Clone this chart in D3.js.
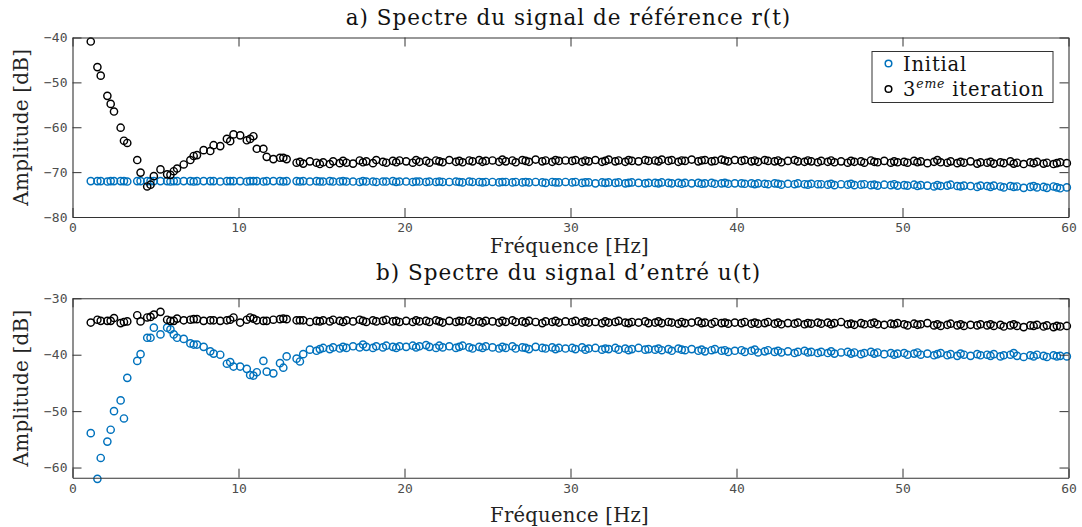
<!DOCTYPE html>
<html><head><meta charset="utf-8">
<script src="https://cdn.jsdelivr.net/npm/d3@7"></script>
<style>
body{margin:0;background:#fff;}
svg{display:block;}
</style></head>
<body>
<svg id="chart" width="1082" height="527"></svg>
<script>
// Frequencies (Hz), one line per 5 Hz block
const freq = [
 1.1,1.5,1.7,2.1,2.3,2.5,2.9,3.1,3.3,3.9,4.1,4.5,4.7,4.9,
 5.3,5.7,5.9,6.1,6.3,6.7,7.1,7.3,7.5,7.9,8.3,8.5,8.9,9.3,9.5,9.7,
 10.1,10.5,10.7,10.9,11.1,11.5,11.7,12.1,12.5,12.7,12.9,13.5,13.7,13.9,14.3,14.7,14.9,
 15.1,15.5,15.7,16.1,16.3,16.5,16.9,17.3,17.5,17.7,18.1,18.3,18.7,18.9,19.3,19.5,19.7,
 20.1,20.5,20.7,20.9,21.3,21.5,21.9,22.1,22.3,22.7,23.1,23.3,23.5,23.9,24.1,24.5,24.7,24.9,
 25.3,25.7,25.9,26.1,26.5,26.7,27.1,27.3,27.5,27.9,28.3,28.5,28.9,29.1,29.3,29.7,
 30.1,30.3,30.7,30.9,31.1,31.5,31.9,32.1,32.3,32.7,32.9,33.3,33.5,33.7,34.1,34.5,34.7,
 35.1,35.3,35.5,35.9,36.1,36.5,36.7,36.9,37.3,37.7,37.9,38.1,38.5,38.7,39.1,39.3,39.5,39.9,
 40.3,40.5,40.9,41.1,41.3,41.7,41.9,42.3,42.5,42.7,43.1,43.5,43.7,44.1,44.3,44.5,44.9,
 45.1,45.5,45.7,45.9,46.3,46.7,46.9,47.1,47.5,47.7,48.1,48.3,48.5,48.9,49.3,49.5,49.7,
 50.1,50.3,50.7,50.9,51.1,51.5,51.9,52.1,52.3,52.7,52.9,53.3,53.5,53.7,54.1,54.5,54.7,
 55.1,55.3,55.5,55.9,56.1,56.5,56.7,56.9,57.3,57.7,57.9,58.1,58.5,58.7,59.1,59.3,59.5,59.9
];

// a) reference signal r(t) spectrum [dB]
const refInitial = [
 -72.0,-72.0,-72.0,-72.1,-72.0,-72.0,-72.0,-72.0,-72.1,-72.0,-72.0,-72.0,-72.0,-72.0,
 -72.0,-72.0,-72.1,-72.0,-72.0,-72.0,-72.0,-72.1,-72.0,-72.0,-72.0,-72.0,-72.1,-72.0,-72.0,-72.0,
 -72.0,-72.1,-72.0,-72.0,-72.0,-72.1,-72.0,-72.0,-72.0,-72.1,-72.0,-72.0,-72.1,-72.0,-72.1,-72.0,-72.1,
 -72.1,-72.0,-72.1,-72.1,-72.0,-72.1,-72.1,-72.2,-72.0,-72.1,-72.1,-72.2,-72.1,-72.1,-72.0,-72.2,-72.1,
 -72.1,-72.2,-72.1,-72.1,-72.2,-72.1,-72.2,-72.1,-72.2,-72.2,-72.1,-72.2,-72.3,-72.1,-72.2,-72.2,-72.3,-72.2,
 -72.2,-72.3,-72.2,-72.2,-72.3,-72.2,-72.3,-72.2,-72.3,-72.2,-72.3,-72.4,-72.2,-72.3,-72.3,-72.2,
 -72.3,-72.2,-72.4,-72.3,-72.3,-72.5,-72.3,-72.4,-72.3,-72.4,-72.3,-72.5,-72.4,-72.3,-72.4,-72.5,-72.4,
 -72.4,-72.5,-72.3,-72.4,-72.5,-72.4,-72.6,-72.4,-72.5,-72.4,-72.6,-72.5,-72.4,-72.6,-72.5,-72.4,-72.6,-72.5,
 -72.5,-72.6,-72.5,-72.7,-72.5,-72.6,-72.7,-72.5,-72.6,-72.8,-72.6,-72.7,-72.5,-72.7,-72.8,-72.6,-72.7,
 -72.7,-72.8,-72.6,-72.9,-72.7,-72.8,-72.6,-72.9,-72.8,-72.7,-72.9,-72.8,-73.0,-72.8,-72.9,-72.7,-73.0,
 -72.9,-73.0,-72.8,-73.1,-72.9,-73.0,-73.2,-72.9,-73.1,-73.0,-72.8,-73.1,-73.2,-73.0,-73.1,-73.3,-73.0,
 -73.1,-73.3,-73.0,-73.2,-73.4,-73.1,-73.3,-73.2,-73.5,-73.3,-73.1,-73.4,-73.3,-73.5,-73.2,-73.4,-73.6,-73.4
];
const refThird = [
 -40.9,-46.6,-48.5,-53.0,-54.8,-56.5,-60.1,-63.0,-63.5,-67.3,-70.1,-73.2,-72.8,-70.9,
 -69.4,-70.5,-70.6,-69.8,-69.2,-68.3,-67.3,-66.4,-66.2,-65.1,-65.3,-64.0,-64.2,-62.6,-63.1,-61.6,
 -61.8,-62.9,-62.6,-62.0,-64.8,-64.8,-66.6,-67.1,-66.8,-66.8,-67.1,-67.9,-67.7,-68.1,-67.6,-67.9,-68.2,
 -67.8,-68.2,-67.6,-68.0,-67.5,-67.9,-68.1,-67.4,-67.8,-67.6,-68.0,-67.3,-67.7,-67.9,-67.5,-67.8,-67.4,
 -67.6,-67.9,-67.3,-67.7,-67.5,-67.9,-67.4,-67.6,-67.8,-67.3,-67.7,-67.5,-67.8,-67.4,-67.6,-67.3,-67.7,-67.5,
 -67.4,-67.7,-67.2,-67.6,-67.4,-67.8,-67.3,-67.5,-67.7,-67.2,-67.6,-67.4,-67.7,-67.3,-67.5,-67.4,
 -67.5,-67.3,-67.7,-67.4,-67.6,-67.3,-67.7,-67.5,-67.2,-67.6,-67.4,-67.7,-67.3,-67.5,-67.6,-67.3,-67.5,
 -67.4,-67.6,-67.2,-67.5,-67.3,-67.7,-67.4,-67.5,-67.2,-67.6,-67.4,-67.3,-67.6,-67.5,-67.2,-67.4,-67.6,-67.3,
 -67.5,-67.3,-67.6,-67.4,-67.7,-67.3,-67.5,-67.6,-67.4,-67.8,-67.5,-67.3,-67.6,-67.7,-67.4,-67.6,-67.8,
 -67.5,-67.7,-67.4,-67.8,-67.6,-67.9,-67.5,-67.7,-67.6,-67.9,-67.4,-67.7,-67.8,-67.5,-67.9,-67.6,-67.8,
 -67.7,-67.9,-67.5,-67.8,-67.6,-68.0,-67.7,-67.3,-67.8,-67.9,-67.6,-68.0,-67.7,-67.9,-67.6,-68.1,-67.8,
 -67.9,-67.7,-68.1,-67.8,-68.0,-67.6,-68.1,-67.9,-68.2,-67.8,-68.0,-67.7,-68.1,-67.9,-68.2,-68.0,-67.8,-68.0
];

// b) input signal u(t) spectrum [dB]
const inInitial = [
 -53.9,-62.0,-58.3,-55.4,-53.3,-50.0,-48.1,-51.3,-44.1,-41.1,-39.9,-37.0,-37.0,-35.2,
 -36.4,-35.2,-35.5,-36.4,-37.0,-37.2,-38.0,-38.2,-38.2,-38.6,-39.4,-39.8,-40.0,-41.6,-41.3,-42.1,
 -42.1,-42.5,-43.6,-43.7,-43.1,-41.1,-43.0,-43.3,-41.5,-42.3,-40.3,-40.7,-41.2,-39.9,-39.1,-39.3,-39.0,
 -38.8,-39.0,-38.7,-38.9,-38.6,-38.8,-38.5,-38.7,-38.2,-38.6,-38.8,-38.5,-38.7,-38.4,-38.6,-38.8,-38.5,
 -38.6,-38.4,-38.7,-38.5,-38.3,-38.6,-38.8,-38.4,-38.7,-38.5,-38.8,-38.6,-38.4,-38.7,-38.9,-38.6,-38.8,-38.5,
 -38.7,-38.9,-38.6,-38.8,-38.5,-38.9,-38.7,-38.8,-39.0,-38.6,-38.8,-38.9,-38.7,-39.0,-38.8,-38.9,
 -38.8,-39.0,-38.7,-39.1,-38.9,-38.8,-39.1,-38.9,-39.0,-38.8,-39.1,-38.9,-39.2,-39.0,-38.8,-39.1,-39.0,
 -39.1,-38.9,-39.2,-39.0,-39.3,-38.9,-39.1,-39.2,-39.0,-39.3,-39.1,-39.4,-39.2,-39.0,-39.3,-39.2,-39.5,-39.3,
 -39.2,-39.5,-39.3,-39.1,-39.6,-39.4,-39.2,-39.5,-39.3,-39.6,-39.4,-39.7,-39.5,-39.3,-39.6,-39.5,-39.7,
 -39.5,-39.7,-39.4,-39.8,-39.6,-39.5,-39.8,-39.6,-39.9,-39.7,-39.5,-39.8,-39.6,-39.9,-39.7,-40.0,-39.8,
 -39.7,-40.0,-39.8,-39.6,-40.0,-39.8,-40.1,-39.9,-39.7,-40.1,-39.9,-40.2,-39.8,-40.0,-40.2,-39.9,-40.1,
 -40.0,-40.2,-39.9,-40.3,-40.1,-40.0,-39.7,-40.2,-40.4,-40.1,-40.3,-40.0,-40.2,-40.4,-40.1,-40.3,-40.2,-40.3
];
const inThird = [
 -34.3,-33.8,-34.0,-34.0,-34.0,-33.5,-34.4,-34.2,-34.1,-33.0,-34.1,-33.4,-33.3,-32.9,
 -32.4,-33.8,-34.0,-34.0,-33.6,-33.9,-33.8,-33.7,-33.7,-34.0,-33.9,-33.9,-34.0,-33.9,-33.8,-33.4,
 -34.3,-33.8,-33.4,-33.6,-33.9,-34.0,-34.0,-33.8,-33.7,-33.6,-33.7,-33.9,-33.9,-33.9,-34.2,-34.0,-34.1,
 -33.9,-34.1,-33.8,-34.0,-34.2,-33.9,-34.1,-33.8,-34.0,-34.2,-33.9,-34.1,-34.0,-33.8,-34.1,-34.0,-34.2,
 -34.0,-34.2,-33.9,-34.1,-34.0,-34.2,-33.9,-34.1,-34.3,-34.0,-34.2,-34.0,-34.1,-33.9,-34.2,-34.1,-34.3,-34.0,
 -34.1,-34.3,-34.0,-34.2,-33.9,-34.2,-34.1,-34.3,-34.0,-34.2,-34.4,-34.1,-34.2,-34.0,-34.3,-34.1,
 -34.2,-34.0,-34.3,-34.1,-34.3,-34.2,-34.4,-34.1,-34.3,-34.2,-34.0,-34.3,-34.4,-34.2,-34.3,-34.1,-34.4,
 -34.3,-34.1,-34.4,-34.2,-34.3,-34.5,-34.2,-34.4,-34.3,-34.1,-34.4,-34.3,-34.5,-34.2,-34.4,-34.3,-34.5,-34.3,
 -34.4,-34.2,-34.5,-34.3,-34.5,-34.4,-34.2,-34.5,-34.3,-34.6,-34.4,-34.5,-34.3,-34.6,-34.4,-34.5,-34.3,
 -34.5,-34.3,-34.6,-34.4,-34.2,-34.6,-34.5,-34.7,-34.4,-34.6,-34.5,-34.3,-34.6,-34.7,-34.5,-34.6,-34.4,
 -34.6,-34.8,-34.5,-34.7,-34.6,-34.4,-34.8,-34.6,-34.9,-34.7,-34.5,-34.8,-34.6,-34.9,-34.7,-34.8,-34.6,
 -34.8,-34.6,-34.9,-34.7,-35.0,-34.8,-34.6,-34.9,-35.1,-34.8,-34.9,-34.7,-35.0,-34.8,-35.1,-34.9,-35.0,-34.9
];

const xTicks = [0, 10, 20, 30, 40, 50, 60];
const yTicksA = [-80, -70, -60, -50, -40];
const yTicksB = [-60, -50, -40, -30];
const seriesNames = ["Initial", "3eme iteration"];
const seriesColors = ["#0072BD", "#000000"];

const titleA = "a) Spectre du signal de référence r(t)";
const titleB = "b) Spectre du signal d\u2019entré u(t)";
const xLabel = "Fréquence [Hz]";
const yLabel = "Amplitude [dB]";

const svg = d3.select("#chart");
const L = 72.5, R = 1068.5;
const serif = "'DejaVu Serif', serif";
const mono = "'DejaVu Sans Mono', monospace";
const axisColor = "#333";

const panels = [
  {title: titleA, top: 37.5, bottom: 217, ydom: [-80, -40], yticks: yTicksA,
   series: [refInitial, refThird], titleY: 25, xlabY: 252.5, legend: true},
  {title: titleB, top: 298.3, bottom: 477.7, ydom: [-61.8, -30], yticks: yTicksB,
   series: [inInitial, inThird], titleY: 280, xlabY: 521.5, legend: false}
];

panels.forEach(p => {
  const x = d3.scaleLinear().domain([0, 60]).range([L, R]);
  const y = d3.scaleLinear().domain(p.ydom).range([p.bottom, p.top]);
  const g = svg.append("g");
  const tl = 9;

  // markers
  p.series.forEach((vals, si) => {
    const data = freq.map((f, i) => ({f, v: vals[i]})).filter(d => d.v !== undefined);
    g.append("g").selectAll("circle").data(data).join("circle")
      .attr("cx", d => x(d.f)).attr("cy", d => y(d.v)).attr("r", 3.6)
      .attr("fill", "none").attr("stroke", seriesColors[si]).attr("stroke-width", 1.45);
  });

  // axes (box with inward ticks)
  const ax = g.append("g").attr("transform", `translate(0,${p.bottom})`)
    .call(d3.axisBottom(x).tickValues(xTicks).tickSizeInner(-tl).tickSizeOuter(0).tickPadding(6));
  const axT = g.append("g").attr("transform", `translate(0,${p.top})`)
    .call(d3.axisTop(x).tickValues(xTicks).tickSizeInner(-tl).tickSizeOuter(0).tickFormat(""));
  const ay = g.append("g").attr("transform", `translate(${L},0)`)
    .call(d3.axisLeft(y).tickValues(p.yticks).tickSizeInner(-tl).tickSizeOuter(0).tickPadding(5)
      .tickFormat(d => d3.format("d")(d).replace("-", "\u2212")));
  const ayR = g.append("g").attr("transform", `translate(${R},0)`)
    .call(d3.axisRight(y).tickValues(p.yticks).tickSizeInner(-tl).tickSizeOuter(0).tickFormat(""));
  [ax, axT, ay, ayR].forEach(a => {
    a.selectAll("path.domain").attr("stroke", axisColor).attr("stroke-width", 1.1);
    a.selectAll(".tick line").attr("stroke", axisColor).attr("stroke-width", 1);
    a.selectAll(".tick text").attr("font-family", mono).attr("font-size", 13).attr("fill", "#4d4d4d");
  });

  // title
  g.append("text").attr("x", (L + R) / 2 - 2).attr("y", p.titleY).attr("text-anchor", "middle")
    .attr("font-family", serif).attr("font-size", 21.5).attr("letter-spacing", 1.0)
    .attr("fill", "#111").text(p.title);
  // x label
  g.append("text").attr("x", (L + R) / 2 - 1).attr("y", p.xlabY).attr("text-anchor", "middle")
    .attr("font-family", serif).attr("font-size", 19.5).attr("letter-spacing", 0.3)
    .attr("fill", "#222").text(xLabel);
  // y label
  g.append("text").attr("transform", `translate(28,${(p.top + p.bottom) / 2}) rotate(-90)`)
    .attr("text-anchor", "middle")
    .attr("font-family", serif).attr("font-size", 20).attr("letter-spacing", 0.2)
    .attr("fill", "#222").text(yLabel);

  if (p.legend) {
    const lg = g.append("g");
    lg.append("rect").attr("x", 872).attr("y", 51.5).attr("width", 181).attr("height", 51)
      .attr("fill", "#fff").attr("stroke", axisColor).attr("stroke-width", 1);
    const rows = [63.5, 89];
    seriesNames.forEach((nm, i) => {
      lg.append("circle").attr("cx", 888.5).attr("cy", rows[i]).attr("r", 3.3)
        .attr("fill", "none").attr("stroke", seriesColors[i]).attr("stroke-width", 1.5);
      const t = lg.append("text").attr("x", 903).attr("y", rows[i] + 7)
        .attr("font-family", serif).attr("font-size", 19.5).attr("letter-spacing", 0.8).attr("fill", "#111");
      if (i === 0) t.text(nm);
      else {
        t.append("tspan").text("3");
        t.append("tspan").attr("font-size", 12.5).attr("font-style", "italic").attr("dy", -8).text("eme");
        t.append("tspan").attr("dy", 8).text("\u00a0iteration");
      }
    });
  }
});
</script>
</body></html>
